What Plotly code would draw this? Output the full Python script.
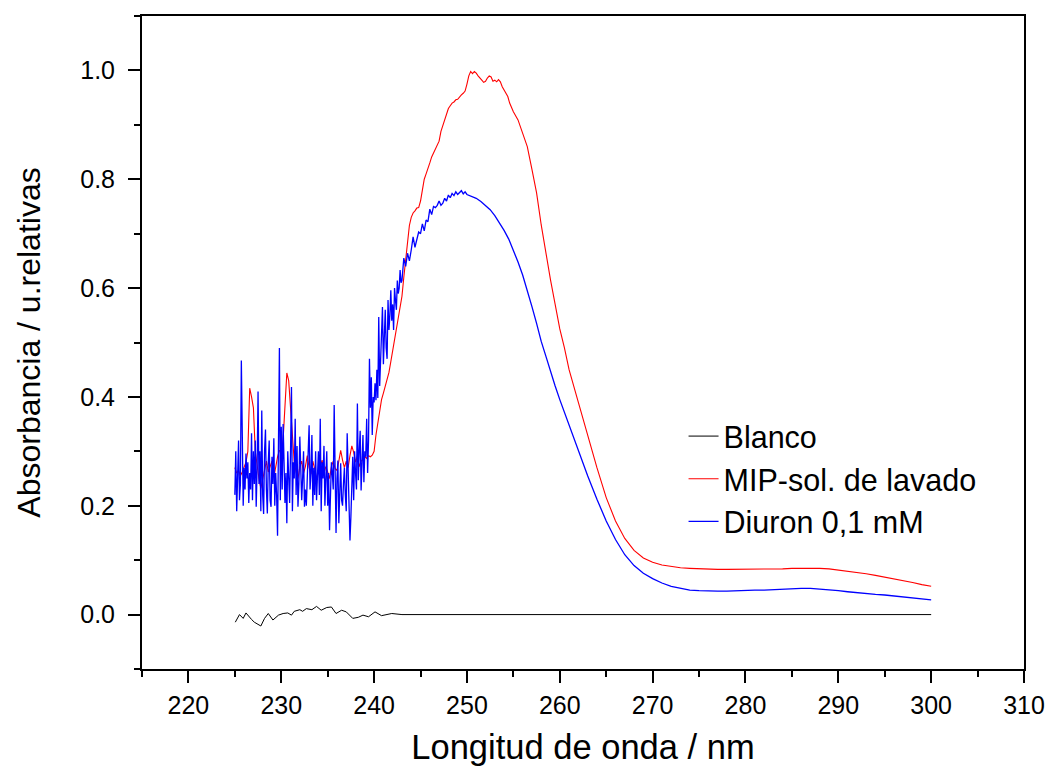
import plotly.graph_objects as go

# ---------------- data ----------------
# Blanco (black)
blanco_x = [225.05, 225.5, 225.9, 226.2, 226.8, 227.1, 227.8, 228.2, 228.6, 229.1,
            229.7, 230.2, 230.7, 231.1, 231.4, 232.0, 232.3, 232.7, 233.3, 233.8,
            234.3, 234.9, 235.4, 235.9, 236.5, 237.0, 237.7, 238.3, 238.8, 239.4,
            240.1, 240.8, 241.9, 243.0, 300.0]
blanco_y = [-0.014, 0.000, -0.007, 0.003, -0.009, -0.014, -0.021, -0.007, 0.002, -0.010,
            -0.001, 0.002, 0.003, -0.001, 0.006, 0.009, 0.006, 0.011, 0.009, 0.015,
            0.008, 0.013, 0.014, 0.002, 0.008, 0.005, -0.007, -0.005, -0.001, -0.004,
            0.005, -0.002, 0.002, 0.000, 0.000]

# wavelength sampling (nm)
mip_fine_start, mip_fine_step = 225.0, 0.2      # MIP fine part: 225.0 ... 255.0
diu_noise_start, diu_noise_step = 225.0, 0.1    # Diuron noisy part: 225.0 ... 243.0
diu_fine_start, diu_fine_step = 243.2, 0.2      # Diuron fine part: 243.2 ... 250.0
mip_mid_x = [255.5, 256.0, 256.5, 257.0, 257.5, 258.0, 258.5, 259.0, 259.5, 260.0, 260.5]
diu_mid_x = [250.5, 251.0, 251.5, 252.0, 252.5, 253.0, 253.5, 254.0, 254.5, 255.0,
             255.5, 256.0, 256.5, 257.0, 257.5, 258.0, 258.5, 259.0, 259.5, 260.0,
             260.5]
coarse_x = [261, 262, 263, 264, 265, 266, 267, 268, 269, 270, 271, 272, 273, 274, 275,
            276, 277, 278, 279, 280, 281, 282, 283, 284, 285, 286, 287, 288, 289, 290,
            291, 292, 293, 294, 295, 296, 297, 298, 299, 300]

# MIP-sol. de lavado (red)
mip_fine = [0.270, 0.260, 0.265, 0.255, 0.262, 0.270, 0.280, 0.300, 0.416, 0.400,
            0.380, 0.300, 0.270, 0.250, 0.232, 0.248, 0.270, 0.282, 0.262, 0.272,
            0.282, 0.252, 0.272, 0.290, 0.302, 0.298, 0.322, 0.380, 0.444, 0.430,
            0.380, 0.320, 0.280, 0.262, 0.250, 0.272, 0.282, 0.260, 0.272, 0.292,
            0.270, 0.258, 0.282, 0.268, 0.250, 0.262, 0.272, 0.284, 0.260, 0.272,
            0.262, 0.250, 0.272, 0.282, 0.268, 0.265, 0.282, 0.302, 0.284, 0.270,
            0.282, 0.270, 0.292, 0.310, 0.298, 0.280, 0.292, 0.272, 0.282, 0.285,
            0.290, 0.287, 0.292, 0.290, 0.293, 0.300, 0.330, 0.352, 0.375, 0.395,
            0.407, 0.420, 0.430, 0.445, 0.465, 0.485, 0.505, 0.525, 0.545, 0.560,
            0.585, 0.620, 0.655, 0.685, 0.715, 0.730, 0.738, 0.742, 0.747, 0.748,
            0.760, 0.780, 0.800, 0.810, 0.822, 0.830, 0.841, 0.848, 0.856, 0.862,
            0.870, 0.888, 0.898, 0.910, 0.920, 0.930, 0.935, 0.940, 0.942, 0.946,
            0.947, 0.952, 0.955, 0.958, 0.962, 0.975, 0.990, 0.998, 0.994, 0.998,
            0.995, 0.990, 0.985, 0.982, 0.978, 0.980, 0.986, 0.990, 0.988, 0.980,
            0.982, 0.979, 0.983, 0.979, 0.970, 0.963, 0.957, 0.952, 0.940, 0.930,
            0.924]
mip_mid = [0.909, 0.885, 0.860, 0.818, 0.775, 0.716, 0.663, 0.615, 0.570, 0.525, 0.490]
mip_coarse = [0.450, 0.390, 0.330, 0.270, 0.215, 0.172, 0.140, 0.118, 0.104, 0.096,
              0.091, 0.088, 0.086, 0.085, 0.084, 0.083, 0.083, 0.083, 0.083, 0.083,
              0.083, 0.084, 0.084, 0.084, 0.085, 0.085, 0.086, 0.085, 0.084, 0.082,
              0.080, 0.077, 0.075, 0.072, 0.069, 0.066, 0.062, 0.059, 0.055, 0.052]

# Diuron 0,1 mM (blue)
diu_noise = [
    0.220, 0.300, 0.190, 0.250, 0.320, 0.210, 0.240, 0.467, 0.260, 0.200,   # 225
    0.270, 0.230, 0.296, 0.250, 0.280, 0.205, 0.260, 0.230, 0.333, 0.210,   # 226
    0.300, 0.240, 0.320, 0.198, 0.270, 0.410, 0.240, 0.300, 0.190, 0.375,   # 227
    0.220, 0.185, 0.300, 0.340, 0.230, 0.186, 0.280, 0.320, 0.210, 0.198,   # 228
    0.290, 0.240, 0.324, 0.200, 0.260, 0.220, 0.145, 0.300, 0.490, 0.210,   # 229
    0.345, 0.230, 0.350, 0.280, 0.205, 0.260, 0.168, 0.300, 0.240, 0.205,   # 230
    0.300, 0.418, 0.190, 0.280, 0.250, 0.360, 0.220, 0.310, 0.198, 0.240,   # 231
    0.327, 0.280, 0.210, 0.250, 0.300, 0.198, 0.230, 0.200, 0.280, 0.300,   # 232
    0.348, 0.230, 0.260, 0.330, 0.200, 0.270, 0.220, 0.300, 0.210, 0.260,   # 233
    0.300, 0.220, 0.360, 0.190, 0.280, 0.250, 0.310, 0.200, 0.240, 0.300,   # 234
    0.200, 0.260, 0.155, 0.230, 0.280, 0.260, 0.230, 0.385, 0.200, 0.150,   # 235
    0.250, 0.283, 0.168, 0.230, 0.278, 0.210, 0.200, 0.240, 0.270, 0.220,   # 236
    0.190, 0.333, 0.260, 0.230, 0.136, 0.180, 0.250, 0.290, 0.210, 0.300,   # 237
    0.260, 0.230, 0.388, 0.247, 0.300, 0.338, 0.228, 0.280, 0.330, 0.243,   # 238
    0.300, 0.290, 0.360, 0.260, 0.320, 0.470, 0.380, 0.436, 0.330, 0.400,   # 239
    0.390, 0.425, 0.394, 0.450, 0.398, 0.547, 0.420, 0.467, 0.510, 0.565,   # 240
    0.460, 0.520, 0.560, 0.490, 0.470, 0.578, 0.523, 0.550, 0.596, 0.540,   # 241
    0.570, 0.523, 0.600, 0.578, 0.560, 0.614, 0.590, 0.600, 0.633, 0.610,   # 242
    0.614,                                                                  # 243.0
]
diu_fine = [0.655, 0.640, 0.664, 0.650, 0.670, 0.694, 0.675, 0.690, 0.703, 0.700,
            0.718, 0.705, 0.725, 0.722, 0.745, 0.735, 0.750, 0.748, 0.752, 0.760,
            0.752, 0.756, 0.765, 0.760, 0.771, 0.766, 0.774, 0.770, 0.777, 0.772,
            0.776, 0.779, 0.773, 0.777, 0.772]
diu_mid = [0.769, 0.765, 0.759, 0.752, 0.744, 0.733, 0.720, 0.706, 0.690, 0.670,
           0.648, 0.624, 0.596, 0.566, 0.535, 0.502, 0.475, 0.445, 0.420, 0.395,
           0.372]
diu_coarse = [0.348, 0.300, 0.255, 0.212, 0.172, 0.138, 0.110, 0.090, 0.076, 0.066,
              0.058, 0.052, 0.048, 0.045, 0.044, 0.043, 0.043, 0.043, 0.044, 0.044,
              0.045, 0.045, 0.046, 0.047, 0.047, 0.048, 0.048, 0.047, 0.046, 0.044,
              0.042, 0.040, 0.039, 0.037, 0.036, 0.034, 0.032, 0.030, 0.028, 0.027]

x_ticks = [220, 230, 240, 250, 260, 270, 280, 290, 300, 310]
y_ticks = [0.0, 0.2, 0.4, 0.6, 0.8, 1.0]


def grid(start, step, n):
    return [round(start + step * i, 2) for i in range(n)]


mip_x = grid(mip_fine_start, mip_fine_step, len(mip_fine)) + mip_mid_x + coarse_x
mip_y = mip_fine + mip_mid + mip_coarse
diu_x = (grid(diu_noise_start, diu_noise_step, len(diu_noise))
         + grid(diu_fine_start, diu_fine_step, len(diu_fine)) + diu_mid_x + coarse_x)
diu_y = diu_noise + diu_fine + diu_mid + diu_coarse

FONT = "Liberation Sans, Arial, sans-serif"

fig = go.Figure()
fig.add_trace(go.Scatter(x=blanco_x, y=blanco_y, mode="lines", name="Blanco",
                         line=dict(color="black", width=1)))
fig.add_trace(go.Scatter(x=mip_x, y=mip_y, mode="lines", name="MIP-sol. de lavado",
                         line=dict(color="#ff0000", width=1.1)))
fig.add_trace(go.Scatter(x=diu_x, y=diu_y, mode="lines", name="Diuron 0,1 mM",
                         line=dict(color="#0000ff", width=1.3)))

fig.update_layout(
    width=1048, height=766,
    margin=dict(l=142, r=24, t=16, b=97),
    paper_bgcolor="white", plot_bgcolor="white",
    font=dict(family=FONT, size=25, color="black"),
    showlegend=True,
    legend=dict(x=0.614, y=0.397, xanchor="left", yanchor="top",
                font=dict(family=FONT, size=30.5, color="black"),
                bgcolor="rgba(0,0,0,0)", borderwidth=0, tracegroupgap=0),
)
fig.update_xaxes(
    range=[215, 310], tickvals=x_ticks, ticks="outside", ticklen=12, tickwidth=2,
    tickcolor="black", showline=True, linewidth=2, linecolor="black", mirror=True,
    showgrid=False, zeroline=False, tickfont=dict(size=25), automargin=False,
    ticklabelstandoff=1,
    minor=dict(dtick=5, tick0=215, ticks="outside", ticklen=6, tickwidth=2, tickcolor="black", showgrid=False),
    title=dict(text="Longitud de onda / nm", font=dict(size=34.5), standoff=19),
)
fig.update_yaxes(
    range=[-0.1, 1.1], tickvals=y_ticks, tickformat=".1f", ticks="outside", ticklen=12,
    tickwidth=2, tickcolor="black", showline=True, linewidth=2, linecolor="black",
    mirror=True, showgrid=False, zeroline=False, tickfont=dict(size=25), automargin=False,
    minor=dict(dtick=0.1, tick0=0, ticks="outside", ticklen=6, tickwidth=2, tickcolor="black", showgrid=False),
    title=dict(text="Absorbancia / u.relativas", font=dict(size=32), standoff=30),
    ticklabelstandoff=8,
)

fig.write_html("out.html")
